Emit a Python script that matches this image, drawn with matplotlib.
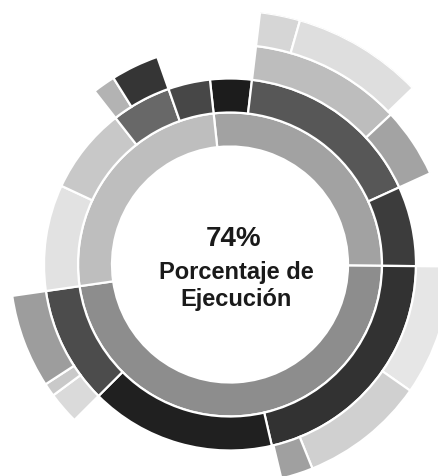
import numpy as np
import matplotlib
matplotlib.use("Agg")
import matplotlib.pyplot as plt

# sunburst: angles in degrees, clockwise from 12 o'clock
ring1_start = [353.8, 90.5, 261.8]
ring1_span = [96.7, 171.3, 92.0]

ring2_start = [353.8, 6.8, 65.5, 90.5, 167.0, 225.0, 261.8, 295.0, 322.0, 340.7]
ring2_span = [13.0, 58.7, 25.0, 76.5, 58.0, 36.8, 33.2, 27.0, 18.7, 13.1]

ring3_start = [6.8, 47.0, 90.5, 125.0, 158.0, 225.0, 233.5, 237.0, 322.0, 328.0]
ring3_span = [40.2, 18.5, 34.5, 33.0, 8.5, 8.5, 3.5, 24.8, 6.0, 12.7]

ring4_start = [6.8, 16.0]
ring4_span = [9.2, 30.0]

center_value = "74%"
center_label = ["Porcentaje de", "Ejecución"]

# grey shades of each segment
ring1_color = ["#a2a2a2", "#8d8d8d", "#bebebe"]
ring2_color = ["#1c1c1c", "#575757", "#3c3c3c", "#323232", "#202020",
               "#4c4c4c", "#e2e2e2", "#c8c8c8", "#686868", "#474747"]
ring3_color = ["#bdbdbd", "#a3a3a3", "#e6e6e6", "#d0d0d0", "#a0a0a0",
               "#dadada", "#c9c9c9", "#9d9d9d", "#b3b3b3", "#353535"]
ring4_color = ["#d6d6d6", "#dedede"]

W, H = 439, 477
cx, cy = 230, 265.5          # centre of the rings, pixels from top-left
r_hole = 118
ring_w = 34
r_max = r_hole + 4 * ring_w

fig = plt.figure(figsize=(W / 100, H / 100), dpi=100)
ax = fig.add_axes([(cx - r_max) / W, (H - cy - r_max) / H,
                   2 * r_max / W, 2 * r_max / H], projection="polar")
ax.set_theta_zero_location("N")
ax.set_theta_direction(-1)
ax.set_ylim(0, r_max)
ax.axis("off")

rings = [
    (ring1_start, ring1_span, ring1_color),
    (ring2_start, ring2_span, ring2_color),
    (ring3_start, ring3_span, ring3_color),
    (ring4_start, ring4_span, ring4_color),
]
for level, (start, span, colors) in enumerate(rings):
    start = np.radians(start)
    span = np.radians(span)
    ax.bar(start, ring_w, width=span, bottom=r_hole + level * ring_w,
           align="edge", color=colors, edgecolor="white", linewidth=1.6)

font = ["Liberation Sans", "DejaVu Sans"]
fig.text(234 / W, 1 - 246 / H, center_value, ha="center", va="baseline",
         fontsize=20, fontweight="bold", family=font, color="#1a1a1a")
for i, line in enumerate(center_label):
    fig.text(236.5 / W, 1 - (279 + 27 * i) / H, line, ha="center",
             va="baseline", fontsize=17, fontweight="bold", family=font,
             color="#1a1a1a")

fig.savefig("out.png", dpi=100)
